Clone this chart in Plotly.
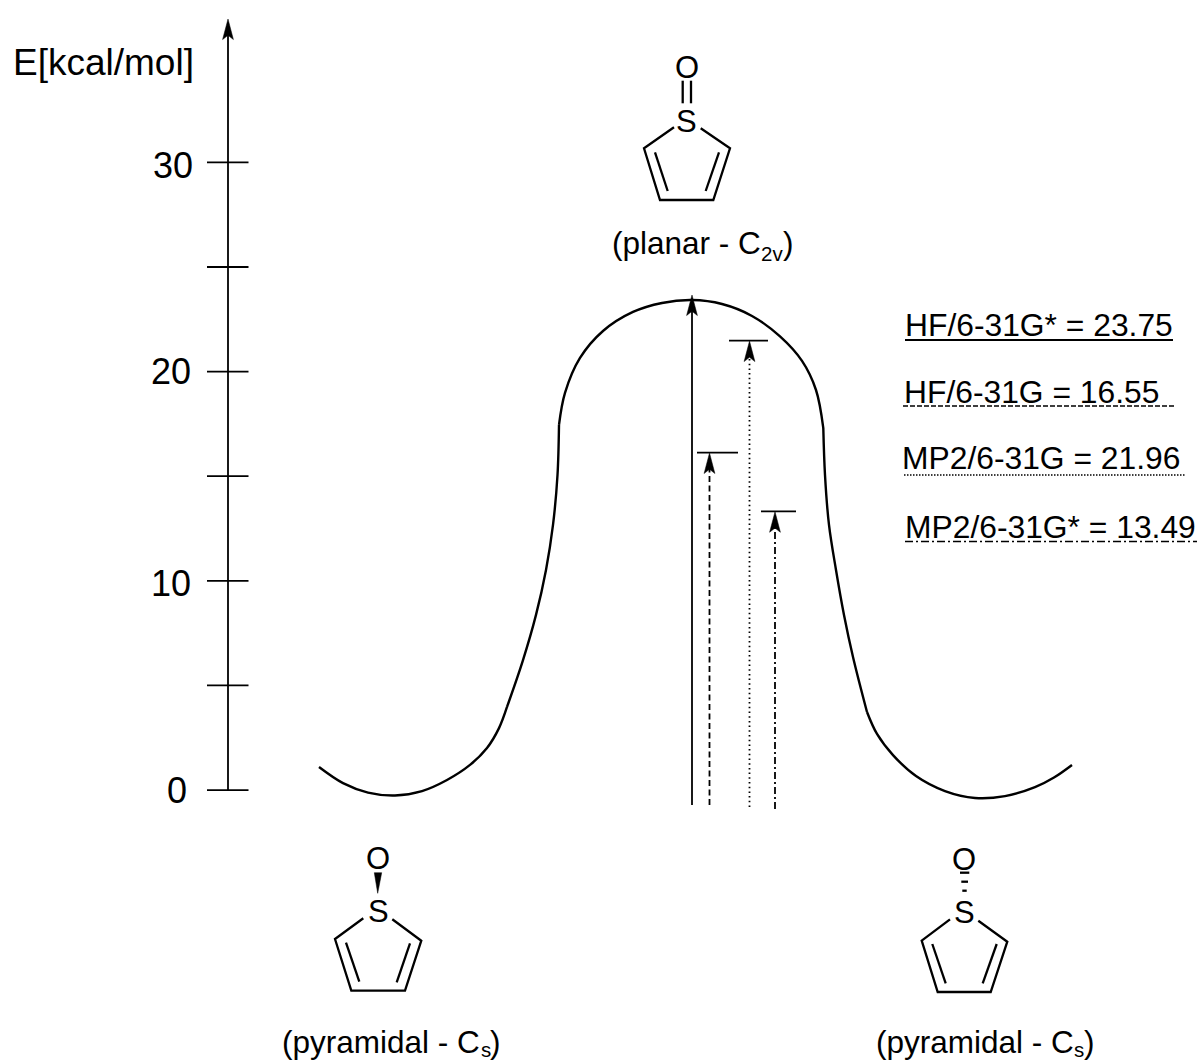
import plotly.graph_objects as go

# ---------- data ----------
tick_energies = [0, 5, 10, 15, 20, 25, 30]
tick_labels = ["0", "10", "20", "30"]

# energy profile, pieces (reaction coordinate, kcal/mol)
well_left_x = [319, 343, 368, 395, 422, 447, 470, 487, 499, 507]
well_left_e = [1.10, 0.33, -0.12, -0.26, -0.05, 0.48, 1.20, 2.01, 2.96, 3.97]
rise_x = [507, 523, 536, 546, 553, 557.5, 559]
rise_e = [3.97, 6.21, 8.37, 10.52, 12.67, 15.06, 17.45]
top_x = [559, 565, 580, 603, 633, 662, 692, 722, 752, 780, 802, 816, 823.3]
top_e = [17.45, 18.98, 20.65, 21.94, 22.85, 23.28, 23.42, 23.23, 22.66, 21.68, 20.51, 19.12, 17.30]
fall_x = [823.3, 825, 829, 836, 844, 853, 867]
fall_e = [17.30, 15.06, 12.67, 10.52, 8.37, 6.36, 3.73]
well_right_x = [867, 877, 893, 916, 945, 975, 1005, 1035, 1054, 1072]
well_right_e = [3.73, 2.68, 1.67, 0.67, -0.05, -0.38, -0.29, 0.14, 0.60, 1.20]

methods = ["HF/6-31G*", "HF/6-31G", "MP2/6-31G", "MP2/6-31G*"]
method_values = ["23.75", "16.55", "21.96", "13.49"]
drawn_levels = [23.66, 16.11, 21.46, 13.30]

# ---------- layout constants ----------
W, H = 1200, 1061
E_TOP, E_BOTTOM = 37.76, -12.95
AXIS_X = 228
tick_label_right = [187, 191, 191, 193]
tick_label_y = [790, 583, 371, 165]
arrow_x = [692, 709.5, 749.5, 775]
arrow_base = [-0.72, -0.72, -0.81, -0.91]
arrow_dash = ["solid", "6px,3.5px", "1.5px,3.2px", "7px,3px,2px,3px"]
bar_x = [None, (697, 738), (729, 768), (761, 796)]
under_x = [(905, 1173), (903, 1175), (904, 1185), (905, 1197)]
under_y = [340, 406, 475, 541.5]
under_dash = ["solid", "5px,2px", "1.5px,1.5px", "8px,3px,2px,3px"]
label_x = [905, 904, 902, 905]
label_y = [325, 392, 458, 527]

fig = go.Figure()


def line(x, y, width=2.2, dash="solid", shape="linear", axis="y", smooth=None):
    ln = dict(color="black", width=width, dash=dash, shape=shape)
    if smooth is not None:
        ln["smoothing"] = smooth
    fig.add_trace(go.Scatter(x=x, y=y, mode="lines", line=ln, yaxis=axis,
                             hoverinfo="skip", showlegend=False))


def head(x, tip):
    xs = [x, x + 5.4, x, x - 5.4, x]
    es = [tip, tip - 0.98, tip - 0.78, tip - 0.98, tip]
    fig.add_trace(go.Scatter(x=xs, y=es, mode="lines", fill="toself", fillcolor="black",
                             line=dict(color="black", width=0.5),
                             hoverinfo="skip", showlegend=False))


# energy axis
line([AXIS_X, AXIS_X], [0, 36.3], width=1.8)
head(AXIS_X, 36.85)
for e in tick_energies:
    line([207, 248.5], [e, e], width=1.8)

# energy profile
for xs, es in [(well_left_x, well_left_e), (rise_x, rise_e), (top_x, top_e),
               (fall_x, fall_e), (well_right_x, well_right_e)]:
    line(xs, es, width=2.4, shape="spline", smooth=1.0)

# method arrows and levels
for x, base, level, dash, bar in zip(arrow_x, arrow_base, drawn_levels, arrow_dash, bar_x):
    line([x, x], [base, level - 0.7], width=1.8, dash=dash)
    head(x, level)
    if bar:
        line(list(bar), [level + 0.02, level + 0.02], width=1.8)

# legend underlines
for xr, y, dash in zip(under_x, under_y, under_dash):
    line(list(xr), [y, y], width=2.2 if dash == "solid" else 1.4, dash=dash, axis="y2")

# molecules (ring outline and inner bonds)
planar_ring_x = [674, 644, 660, 713.3, 730, 700.7]
planar_ring_y = [127.3, 148.3, 200, 200, 148.3, 128.3]
planar_inner = [([655, 667.7], [152.3, 191]), ([719, 705.7], [152.3, 191])]
planar_double = [([682.7, 682.7], [80.7, 103.3]), ([691, 691], [80.7, 103.3])]

left_ring_x = [363.3, 335, 351.3, 405, 421.3, 392.3]
left_ring_y = [918.3, 939, 990.7, 990.7, 940.7, 919.3]
left_inner = [([346, 359.3], [942.7, 981.7]), ([410, 396.7], [943.3, 982.3])]
wedge_x = [377.7, 374.3, 381.7, 377.7]
wedge_y = [893.3, 872.7, 872.7, 893.3]

right_ring_x = [950, 921.7, 937.7, 990.7, 1007.3, 978.3]
right_ring_y = [919.3, 940.7, 992, 992, 941.7, 920.7]
right_inner = [([932.3, 945.7], [944, 983.3]), ([996.7, 982.7], [944, 983.3])]
hash_bonds = [([960, 969.3], [872.7, 872.7]), ([961.3, 968], [881.7, 881.7]), ([962.3, 966.7], [890.7, 890.7])]

for rx, ry, inner in [(planar_ring_x, planar_ring_y, planar_inner),
                      (left_ring_x, left_ring_y, left_inner),
                      (right_ring_x, right_ring_y, right_inner)]:
    line(rx, ry, width=2.3, axis="y2")
    for ix, iy in inner:
        line(ix, iy, width=2.3, axis="y2")
for bx, by in planar_double:
    line(bx, by, width=2.3, axis="y2")
for bx, by in hash_bonds:
    line(bx, by, width=2.3, axis="y2")
fig.add_trace(go.Scatter(x=wedge_x, y=wedge_y, mode="lines", fill="toself", fillcolor="black",
                         line=dict(color="black", width=0.5), yaxis="y2",
                         hoverinfo="skip", showlegend=False))

FONT = "Liberation Sans"


def text(t, x, y, size, anchor="left"):
    fig.add_annotation(text=t, x=x, y=y, xref="x", yref="y2", showarrow=False, xanchor=anchor,
                       yanchor="middle", font=dict(family=FONT, size=size, color="black"),
                       borderpad=0, borderwidth=0)


text("E[kcal/mol]", 13, 62, 37)
for label, r, y in zip(tick_labels, tick_label_right, tick_label_y):
    text(label, r, y, 36, anchor="right")

for name, val, x, y in zip(methods, method_values, label_x, label_y):
    text(f"{name} = {val}", x, y, 31.8)

SUB = 20.5
LBL = 31.5
text("(planar - C", 612, 243, LBL)
text("2v", 761, 253, SUB)
text(")", 783, 243, LBL)
text("(pyramidal - C", 282, 1042, LBL)
text("s", 481, 1049, SUB)
text(")", 490, 1042, LBL)
text("(pyramidal - C", 876, 1042, LBL)
text("s", 1074, 1049, SUB)
text(")", 1084, 1042, LBL)
for label, x, y in [("O", 686.7, 67), ("S", 686.7, 121.7), ("O", 377.7, 858.3),
                    ("S", 378.3, 911.7), ("O", 964, 859.3), ("S", 964.3, 912.3)]:
    text(label, x, y, 31, anchor="center")

fig.update_layout(
    width=W, height=H, margin=dict(l=0, r=0, t=0, b=0),
    paper_bgcolor="white", plot_bgcolor="white", showlegend=False,
    xaxis=dict(range=[0, W], visible=False, fixedrange=True),
    yaxis=dict(range=[E_BOTTOM, E_TOP], visible=False, fixedrange=True),
    yaxis2=dict(range=[H, 0], visible=False, overlaying="y", fixedrange=True),
)
fig.write_html("out.html", config={"displayModeBar": False},
               post_script="document.body.style.margin='0';document.documentElement.style.overflow='hidden';")
